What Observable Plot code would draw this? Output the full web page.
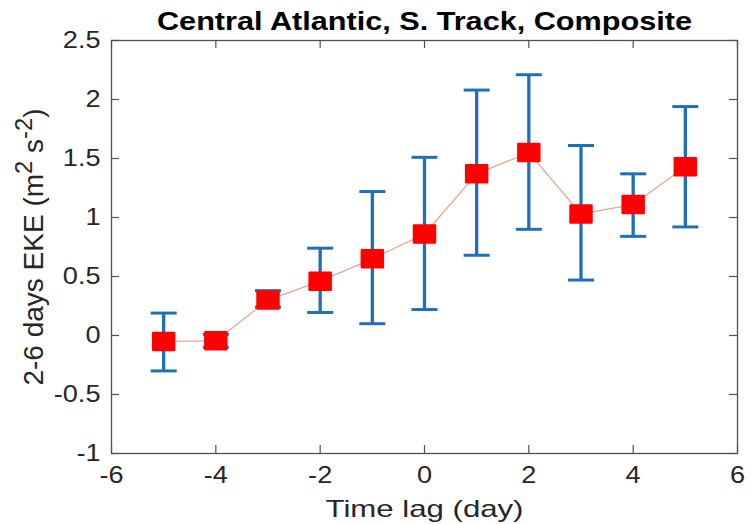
<!DOCTYPE html>
<html>
<head>
<meta charset="utf-8">
<script src="https://cdn.jsdelivr.net/npm/d3@7"></script>
<script src="https://cdn.jsdelivr.net/npm/@observablehq/plot@0.6"></script>
<style>
  html, body { margin: 0; padding: 0; background: #fff; }
  svg { font-family: "Liberation Sans", Arial, sans-serif; }
</style>
</head>
<body>
<div id="chart"></div>
<script>
const lags  = [-5, -4, -3, -2, -1, 0, 1, 2, 3, 4, 5];
const means = [-0.05, -0.045, 0.30, 0.46, 0.65, 0.86, 1.37, 1.55, 1.03, 1.11, 1.43];
const upper = [0.19, 0.01, 0.38, 0.74, 1.22, 1.51, 2.08, 2.21, 1.61, 1.37, 1.94];
const lower = [-0.30, -0.10, 0.24, 0.195, 0.10, 0.22, 0.68, 0.90, 0.47, 0.84, 0.92];
const xTicks = [-6, -4, -2, 0, 2, 4, 6];
const yTicks = [-1, -0.5, 0, 0.5, 1, 1.5, 2, 2.5];
const titleText = "Central Atlantic, S. Track, Composite";
const xLabel = "Time lag (day)";
const yLabelParts = [["2-6 days EKE (m", 0], ["2", 1], [" s", 0], ["-2", 1], [")", 0]];
const yLabel = yLabelParts.map(p => p[0]).join("");

const data = lags.map((x, i) => ({x, m: means[i], hi: upper[i], lo: lower[i]}));

const W = 751, H = 524;
const mL = 111, mR = 14, mT = 40, mB = 71;
const pw = W - mL - mR, ph = H - mT - mB;
const tl = 8;

const capSymbol = {
  draw(ctx) { ctx.moveTo(-13, 0); ctx.lineTo(13, 0); }
};
const boxSymbol = {
  draw(ctx) { ctx.rect(-10.5, -8.5, 21, 17); }
};

const blue = "#1f70b8";
const frameColor = "#505050";
const textColor = "#262626";

const chart = Plot.plot({
  width: W, height: H,
  marginLeft: mL, marginRight: mR, marginTop: mT, marginBottom: mB,
  style: {fontFamily: "Liberation Sans, Arial, sans-serif", background: "#fff"},
  x: {domain: [-6, 6]},
  y: {domain: [-1, 2.5]},
  marks: [
    Plot.axisX({ticks: xTicks, tickSize: 0, tickPadding: 13, fontSize: 23, color: textColor,
      tickFormat: d => String(d),
      label: null}),
    Plot.axisY({ticks: yTicks, tickSize: 0, tickPadding: 11, fontSize: 23, color: textColor,
      tickFormat: d => String(d),
      label: null}),
    Plot.text([xLabel], {text: d => d, frameAnchor: "bottom", dy: 56, fontSize: 24,
      fill: textColor, lineAnchor: "middle", textAnchor: "middle", className: "xlabel"}),
    Plot.text([yLabel], {text: d => d, frameAnchor: "left", dx: -77, rotate: -90, fontSize: 28,
      fill: textColor, lineAnchor: "middle", textAnchor: "middle", className: "ylabel"}),
    // inward ticks bottom/top
    Plot.ruleX(xTicks, {x: d => d, stroke: frameColor, strokeWidth: 1.2, insetTop: ph - tl}),
    Plot.ruleX(xTicks, {x: d => d, stroke: frameColor, strokeWidth: 1.2, insetBottom: ph - tl}),
    // inward ticks left/right
    Plot.ruleY(yTicks, {y: d => d, stroke: frameColor, strokeWidth: 1.2, insetRight: pw - tl}),
    Plot.ruleY(yTicks, {y: d => d, stroke: frameColor, strokeWidth: 1.2, insetLeft: pw - tl}),
    Plot.frame({stroke: frameColor, strokeWidth: 1.3}),
    // error bars
    Plot.ruleX(data, {x: "x", y1: "lo", y2: "hi", stroke: blue, strokeWidth: 3.3}),
    Plot.dot(data, {x: "x", y: "hi", symbol: capSymbol, stroke: blue, strokeWidth: 3, r: 5}),
    Plot.dot(data, {x: "x", y: "lo", symbol: capSymbol, stroke: blue, strokeWidth: 3, r: 5}),
    // connecting line
    Plot.line(data, {x: "x", y: "m", stroke: "#e6a590", strokeWidth: 1.3}),
    // markers
    Plot.dot(data, {x: "x", y: "m", symbol: boxSymbol, r: 5, fill: "#ff0000",
      stroke: "#ff0000", strokeWidth: 2.5, strokeLinejoin: "round"}),
    // title
    Plot.text([titleText], {text: d => d, frameAnchor: "top", dy: -19, fontSize: 25,
      fontWeight: "bold", fill: "#000", lineAnchor: "middle", textAnchor: "middle", className: "title"})
  ]
});
document.getElementById("chart").appendChild(chart);

// horizontal stretch of the original figure, reproduced with textLength
const svg = d3.select(chart);
svg.selectAll('g[aria-label="x-axis tick label"] text, g[aria-label="y-axis tick label"] text')
  .each(function() {
    const L = this.getComputedTextLength();
    this.setAttribute("textLength", (L * 1.18).toFixed(1));
    this.setAttribute("lengthAdjust", "spacingAndGlyphs");
  });
svg.selectAll(".title text").attr("textLength", 535).attr("lengthAdjust", "spacingAndGlyphs");
svg.selectAll(".xlabel text").attr("textLength", 198).attr("lengthAdjust", "spacingAndGlyphs");
// y label with true superscripts
svg.selectAll(".ylabel text").each(function() {
  const t = d3.select(this);
  t.text(null);
  let raised = 0;
  yLabelParts.forEach(([s, sup]) => {
    const sp = t.append("tspan").text(s);
    if (sup && !raised) { sp.attr("dy", "-0.5em").attr("font-size", "0.85em"); raised = 1; }
    else if (sup && raised) { sp.attr("font-size", "0.85em"); }
    else if (!sup && raised) { sp.attr("dy", "0.425em"); raised = 0; }
  });
});
</script>
</body>
</html>
